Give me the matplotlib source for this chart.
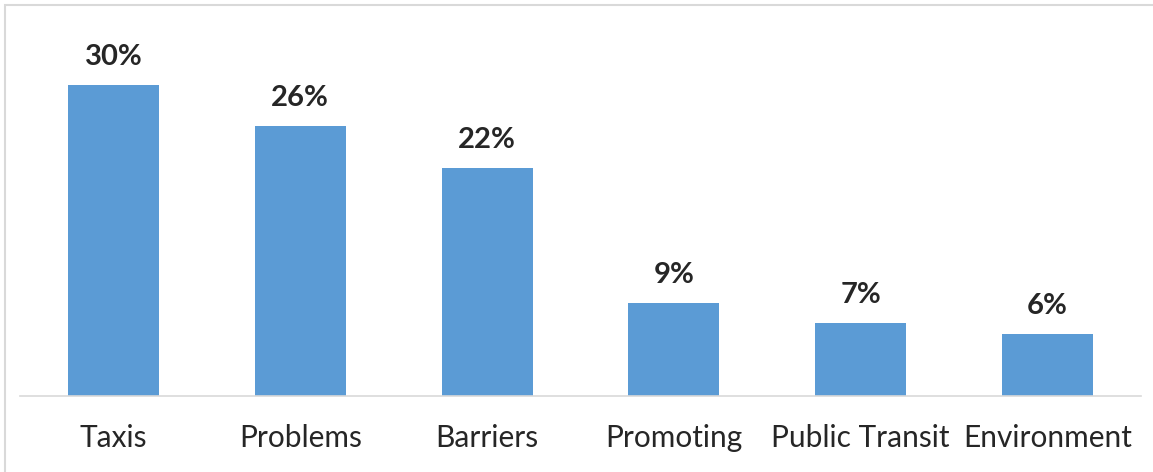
import matplotlib.pyplot as plt
from matplotlib.patches import Rectangle

categories = ["Taxis", "Problems", "Barriers", "Promoting", "Public Transit", "Environment"]
shares = [30, 26, 22, 9, 7, 6]

plt.rcParams['font.family'] = ['Lato', 'DejaVu Sans']

W, H = 1153, 472
fig = plt.figure(figsize=(W / 100, H / 100), dpi=100)

# outer frame, only top and left edges fall inside the canvas
fig.patches.append(Rectangle((5 / W, -0.1), 1.2, 1 - 5 / H + 0.1, transform=fig.transFigure,
                             fill=False, edgecolor='#d9d9d9', linewidth=1.5))

ax = fig.add_axes([20 / W, (H - 396) / H, 1121 / W, (396 - 20) / H])
x = range(len(categories))
bars = ax.bar(x, shares, width=0.487, color='#5b9bd5')

ax.set_xlim(-0.5, len(categories) - 0.5)
ax.set_ylim(0, 376 / 10.37)

for rect, v in zip(bars, shares):
    ax.annotate(f"{v}%", (rect.get_x() + rect.get_width() / 2, v),
                xytext=(0, 14.4), textcoords='offset points', ha='center', va='baseline',
                fontsize=21, fontweight='bold', color='#262626')

ax.set_xticks(list(x))
ax.set_xticklabels(categories, fontsize=21.5, color='#262626')
ax.tick_params(axis='x', length=0, pad=20)
ax.set_yticks([])

for s in ['top', 'right', 'left']:
    ax.spines[s].set_visible(False)
ax.spines['bottom'].set_color('#d9d9d9')
ax.spines['bottom'].set_linewidth(1.2)

fig.savefig('out.png', dpi=100)
